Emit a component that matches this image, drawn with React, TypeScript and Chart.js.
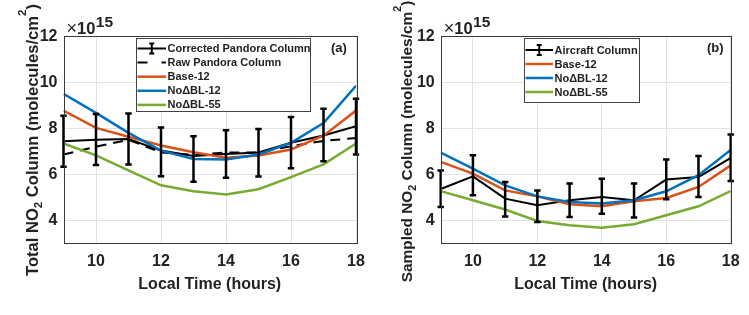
import React, { useEffect, useRef } from 'react';
import { Chart, registerables } from 'chart.js';

Chart.register(...registerables);

// ---------- data ----------
const hours = [9, 10, 11, 12, 13, 14, 15, 16, 17, 18];
const xTickValues = [10, 12, 14, 16, 18];
const yTickValues = [4, 6, 8, 10, 12];

// Panel (a): total NO2 column (x 1e15 molecules/cm2)
const correctedPandora = [7.44, 7.5, 7.53, 7.03, 6.8, 6.88, 6.95, 7.37, 7.69, 8.09];
const correctedUpper = [8.55, 8.62, 8.64, 8.04, 7.65, 7.91, 7.97, 8.49, 8.85, 9.29];
const correctedLower = [6.33, 6.4, 6.43, 5.92, 5.68, 5.85, 5.9, 6.26, 6.57, 6.86];
const rawPandora = [6.86, 7.2, 7.5, 6.95, 6.85, 6.95, 6.95, 7.22, 7.45, 7.58];
const baseA = [8.77, 8.02, 7.63, 7.25, 6.96, 6.72, 6.82, 7.08, 7.68, 8.77];
const noBL12A = [9.5, 8.67, 7.8, 7.03, 6.67, 6.64, 6.86, 7.37, 8.23, 9.85];
const noBL55A = [7.34, 6.82, 6.17, 5.52, 5.26, 5.12, 5.35, 5.88, 6.43, 7.34];

// Panel (b): sampled NO2 column
const aircraft = [5.36, 5.91, 4.94, 4.65, 4.87, 5.01, 4.87, 5.77, 5.88, 6.71];
const aircraftUpper = [6.17, 6.83, 5.67, 5.3, 5.6, 5.81, 5.6, 6.64, 6.8, 7.73];
const aircraftLower = [4.58, 5.09, 4.17, 3.93, 4.14, 4.29, 4.12, 4.91, 5.01, 5.71];
const baseB = [6.54, 6.03, 5.3, 5.04, 4.7, 4.61, 4.83, 4.97, 5.45, 6.39];
const noBL12B = [6.94, 6.25, 5.52, 5.04, 4.8, 4.73, 4.87, 5.26, 5.96, 7.06];
const noBL55B = [5.27, 4.87, 4.47, 3.97, 3.78, 3.68, 3.83, 4.22, 4.61, 5.27];

const xAxisTitle = 'Local Time (hours)';
const exponentTimes = '\u00d7';
const exponentBase = '10';
const exponentPower = '15';

// ---------- styles ----------
const FONT = '"Liberation Sans", Arial, Helvetica, sans-serif';
const TEXT = '#222222';
const BLACK = '#000000';
const ORANGE = '#D95319';
const BLUE = '#0072BD';
const GREEN = '#77AC30';

type Series = {
  label: string;
  data: number[];
  color: string;
  width: number;
  dash?: number[];
  upper?: number[];
  lower?: number[];
};

type TitlePart = { t: string; s: number };

type Panel = {
  width: number;
  yAxisWidth: number;
  padRight: number;
  series: Series[];
  legendBox: { x: number; y: number; w: number; h: number };
  legendRows: number[];
  sampleX0: number;
  sampleX1: number;
  textX: number;
  tag: string;
  tagX: number;
  yTitle: TitlePart[];
  yTitleLength: number;
  yTitleCenter: number;
};

const panelA: Panel = {
  width: 374,
  yAxisWidth: 63.5,
  padRight: 18,
  series: [
    { label: 'Corrected Pandora Column', data: correctedPandora, color: BLACK, width: 2, upper: correctedUpper, lower: correctedLower },
    { label: 'Raw Pandora Column', data: rawPandora, color: BLACK, width: 2, dash: [10, 7] },
    { label: 'Base-12', data: baseA, color: ORANGE, width: 2.5 },
    { label: 'No\u0394BL-12', data: noBL12A, color: BLUE, width: 2.5 },
    { label: 'No\u0394BL-55', data: noBL55A, color: GREEN, width: 2.5 },
  ],
  legendBox: { x: 136, y: 38, w: 174, h: 73 },
  legendRows: [48.5, 62.6, 76.7, 90.8, 104.9],
  sampleX0: 137.5,
  sampleX1: 166,
  textX: 167.5,
  tag: '(a)',
  tagX: 331,
  yTitle: [
    { t: 'Total NO', s: 0 },
    { t: '2', s: 1 },
    { t: ' Column (molecules/cm', s: 0 },
    { t: '2', s: -1 },
    { t: ')', s: 0 },
  ],
  yTitleLength: 272,
  yTitleCenter: 140,
};

const panelB: Panel = {
  width: 375,
  yAxisWidth: 66.7,
  padRight: 18.3,
  series: [
    { label: 'Aircraft Column', data: aircraft, color: BLACK, width: 2, upper: aircraftUpper, lower: aircraftLower },
    { label: 'Base-12', data: baseB, color: ORANGE, width: 2.5 },
    { label: 'No\u0394BL-12', data: noBL12B, color: BLUE, width: 2.5 },
    { label: 'No\u0394BL-55', data: noBL55B, color: GREEN, width: 2.5 },
  ],
  legendBox: { x: 150, y: 38, w: 115, h: 64 },
  legendRows: [50, 64, 78, 92],
  sampleX0: 151.5,
  sampleX1: 179,
  textX: 180.5,
  tag: '(b)',
  tagX: 333,
  yTitle: [
    { t: 'Sampled NO', s: 0 },
    { t: '2', s: 1 },
    { t: ' Column (molecules/cm', s: 0 },
    { t: '2', s: -1 },
    { t: ')', s: 0 },
  ],
  yTitleLength: 282,
  yTitleCenter: 141.5,
};

function font(size: number, weight = 'bold') {
  return `${weight} ${size}px ${FONT}`;
}

function drawErrorBar(ctx: CanvasRenderingContext2D, x: number, yTop: number, yBot: number, cap: number) {
  ctx.beginPath();
  ctx.moveTo(x, yTop);
  ctx.lineTo(x, yBot);
  ctx.moveTo(x - cap, yTop);
  ctx.lineTo(x + cap, yTop);
  ctx.moveTo(x - cap, yBot);
  ctx.lineTo(x + cap, yBot);
  ctx.stroke();
}

function makeDecor(panel: Panel) {
  return {
    id: 'decor',
    afterDatasetsDraw(chart: any) {
      const ctx: CanvasRenderingContext2D = chart.ctx;
      const xs = chart.scales.x;
      const ys = chart.scales.y;
      ctx.save();
      ctx.strokeStyle = BLACK;
      ctx.lineWidth = 2.5;
      panel.series.forEach((s) => {
        if (!s.upper || !s.lower) return;
        hours.forEach((h, i) => {
          const px = xs.getPixelForValue(h);
          drawErrorBar(ctx, px, ys.getPixelForValue(s.upper![i]), ys.getPixelForValue(s.lower![i]), 3.2);
        });
      });
      ctx.restore();
    },
    afterDraw(chart: any) {
      const ctx: CanvasRenderingContext2D = chart.ctx;
      const a = chart.chartArea;
      ctx.save();

      // axes box
      ctx.strokeStyle = '#3a3a3a';
      ctx.lineWidth = 1;
      ctx.strokeRect(Math.round(a.left) + 0.5, Math.round(a.top) + 0.5, Math.round(a.right - a.left), Math.round(a.bottom - a.top));

      // legend
      const lb = panel.legendBox;
      ctx.fillStyle = '#ffffff';
      ctx.fillRect(lb.x, lb.y, lb.w, lb.h);
      ctx.strokeStyle = '#444444';
      ctx.lineWidth = 1;
      ctx.strokeRect(lb.x + 0.5, lb.y + 0.5, lb.w, lb.h);
      panel.series.forEach((s, i) => {
        const y = panel.legendRows[i];
        ctx.strokeStyle = s.color;
        ctx.lineWidth = s.width;
        ctx.setLineDash(s.dash ? [10, 14] : []);
        ctx.beginPath();
        ctx.moveTo(panel.sampleX0, y);
        ctx.lineTo(panel.sampleX1, y);
        ctx.stroke();
        ctx.setLineDash([]);
        if (s.upper) {
          ctx.lineWidth = 2;
          drawErrorBar(ctx, (panel.sampleX0 + panel.sampleX1) / 2, y - 5, y + 5, 2.5);
        }
        ctx.fillStyle = TEXT;
        ctx.font = font(11);
        ctx.textAlign = 'left';
        ctx.textBaseline = 'middle';
        ctx.fillText(s.label, panel.textX, y + 0.5);
      });

      // panel tag
      ctx.fillStyle = TEXT;
      ctx.font = font(13);
      ctx.textAlign = 'left';
      ctx.textBaseline = 'middle';
      ctx.fillText(panel.tag, panel.tagX, 48);

      // exponent label
      ctx.textBaseline = 'alphabetic';
      let ex = a.left + 3;
      ctx.font = font(18, 'normal');
      ctx.fillText(exponentTimes, ex, 33.5);
      ex += ctx.measureText(exponentTimes).width;
      ctx.font = font(16.5);
      ctx.fillText(exponentBase, ex, 33.5);
      ex += ctx.measureText(exponentBase).width;
      ctx.font = font(15.5);
      ctx.fillText(exponentPower, ex + 0.5, 26.5);

      // x title
      ctx.font = font(16);
      ctx.textAlign = 'center';
      ctx.fillText(xAxisTitle, (a.left + a.right) / 2, 288.5);

      // y title (rotated, with sub/superscripts), sized to the target length
      const measure = (main: number) => {
        let t = 0;
        panel.yTitle.forEach((p) => {
          ctx.font = font(p.s === 0 ? main : main * 0.7);
          t += ctx.measureText(p.t).width;
        });
        return t;
      };
      const mainSize = 16 * panel.yTitleLength / measure(16);
      const smallSize = mainSize * 0.7;
      const total = measure(mainSize);
      ctx.translate(38, panel.yTitleCenter);
      ctx.rotate(-Math.PI / 2);
      ctx.textAlign = 'left';
      let cx = -total / 2;
      panel.yTitle.forEach((p) => {
        ctx.font = font(p.s === 0 ? mainSize : smallSize);
        const dy = p.s === 1 ? mainSize * 0.26 : p.s === -1 ? -mainSize * 0.7 : 0;
        ctx.fillText(p.t, cx, dy);
        cx += ctx.measureText(p.t).width;
      });
      ctx.restore();
    },
  };
}

function buildChart(canvas: HTMLCanvasElement, panel: Panel) {
  const n = panel.series.length;
  const datasets = panel.series.map((s, i) => ({
    label: s.label,
    data: hours.map((h, k) => ({ x: h, y: s.data[k] })),
    borderColor: s.color,
    backgroundColor: s.color,
    borderWidth: s.width,
    borderDash: s.dash || [],
    pointRadius: 0,
    pointHoverRadius: 0,
    fill: false,
    tension: 0,
    order: n - i,
  }));
  const tickFont = { family: FONT, size: 16, weight: 'bold' as const };
  return new Chart(canvas, {
    type: 'line',
    data: { datasets },
    options: {
      responsive: false,
      animation: false,
      devicePixelRatio: 1,
      layout: { padding: { top: 36.3, right: panel.padRight, bottom: 0, left: 0 } },
      plugins: { legend: { display: false }, tooltip: { enabled: false }, title: { display: false } },
      scales: {
        x: {
          type: 'linear',
          min: 9,
          max: 18,
          afterBuildTicks: (s: any) => {
            s.ticks = xTickValues.map((v) => ({ value: v }));
          },
          afterFit: (s: any) => {
            s.height = 315 - 243.3;
          },
          grid: { color: '#e2e2e2', lineWidth: 1, drawTicks: false },
          border: { display: false },
          ticks: { padding: 9, font: tickFont, color: TEXT, maxRotation: 0, autoSkip: false },
        },
        y: {
          type: 'linear',
          min: 3,
          max: 12,
          afterBuildTicks: (s: any) => {
            s.ticks = yTickValues.map((v) => ({ value: v }));
          },
          afterFit: (s: any) => {
            s.width = panel.yAxisWidth;
          },
          grid: { color: '#e2e2e2', lineWidth: 1, drawTicks: false },
          border: { display: false },
          ticks: { padding: 6, font: tickFont, color: TEXT, autoSkip: false },
        },
      },
    },
    plugins: [makeDecor(panel)],
  } as any);
}

export default function App() {
  const leftRef = useRef<HTMLCanvasElement>(null);
  const rightRef = useRef<HTMLCanvasElement>(null);
  useEffect(() => {
    const a = buildChart(leftRef.current!, panelA);
    const b = buildChart(rightRef.current!, panelB);
    return () => {
      a.destroy();
      b.destroy();
    };
  }, []);
  return (
    <div style={{ position: 'fixed', left: 0, top: 0, width: 749, height: 315, background: '#ffffff' }}>
      <canvas ref={leftRef} width={374} height={315} style={{ position: 'absolute', left: 0, top: 0, width: 374, height: 315 }} />
      <canvas ref={rightRef} width={375} height={315} style={{ position: 'absolute', left: 374, top: 0, width: 375, height: 315 }} />
    </div>
  );
}
